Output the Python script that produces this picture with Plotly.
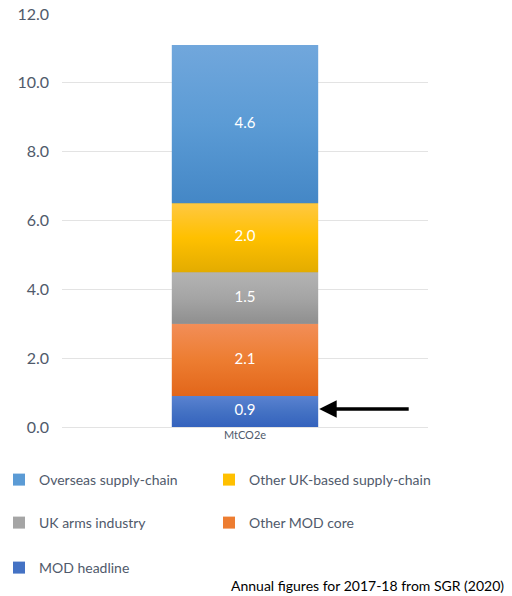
import numpy as np
import plotly.graph_objects as go

# Emissions breakdown (MtCO2e), stacked bottom to top
category_label = "MtCO2e"
series_names = [
    "MOD headline",
    "Other MOD core",
    "UK arms industry",
    "Other UK-based supply-chain",
    "Overseas supply-chain",
]
series_values = [0.9, 2.1, 1.5, 2.0, 4.6]
series_colors = ["#4472c4", "#ed7d31", "#a5a5a5", "#ffc000", "#5b9bd5"]
# (bottom, top) shades for the vertical gradient of each segment
gradient_bottom = ["#3462bd", "#e2661a", "#8f8f8f", "#e3ac00", "#4487c6"]
gradient_top = ["#5a82d0", "#f28e58", "#b3b3b3", "#ffc842", "#71a7dc"]
y_tick_values = [0, 2, 4, 6, 8, 10, 12]
y_tick_labels = ["0.0", "2.0", "4.0", "6.0", "8.0", "10.0", "12.0"]

# legend slot for each series: (legend id, column x px, row y px)
legend_slots = {
    "Overseas supply-chain": ("legend", -1, 480),
    "Other UK-based supply-chain": ("legend2", 209, 480),
    "UK arms industry": ("legend3", -1, 523),
    "Other MOD core": ("legend4", 209, 523),
    "MOD headline": ("legend5", -1, 568),
}

FONT = "Lato, Open Sans, sans-serif"
TEXT = "#505a6b"
W, H = 512, 596
PLOT_LEFT, PLOT_RIGHT = 62, 428   # pixel columns of the plotting area
PLOT_TOP, PLOT_BOTTOM = 14, 427   # pixel rows of the plotting area
BAR_W = 0.4
plot_w = PLOT_RIGHT - PLOT_LEFT
plot_h = PLOT_BOTTOM - PLOT_TOP


def px_x(px):
    return (px - PLOT_LEFT) / plot_w


def px_y(py):
    return (PLOT_BOTTOM - py) / plot_h


tops = np.cumsum(series_values)
bases = tops - np.array(series_values)

fig = go.Figure()

# stacked bars (solid base colours; also provide the legend swatches)
for name, val, col in zip(series_names, series_values, series_colors):
    fig.add_trace(go.Bar(
        x=[0], y=[val], name=name,
        marker=dict(color=col, line=dict(width=0)),
        legend=legend_slots[name][0],
        width=BAR_W, hoverinfo="name+y",
    ))

# vertical shading laid over each stacked segment
for b, t, cb, cm, ct in zip(bases, tops, gradient_bottom, series_colors, gradient_top):
    fig.add_trace(go.Scatter(
        x=[-BAR_W / 2, BAR_W / 2, BAR_W / 2, -BAR_W / 2, -BAR_W / 2],
        y=[b, b, t, t, b],
        mode="lines", line=dict(width=0), fill="toself",
        fillgradient=dict(type="vertical",
                          colorscale=[[0, cb], [0.5, cm], [1, ct]]),
        showlegend=False, hoverinfo="skip",
    ))

# value labels at the middle of each segment
fig.add_trace(go.Scatter(
    x=[0] * len(series_values), y=(bases + tops) / 2,
    mode="text", text=[f"{v:.1f}" for v in series_values],
    textfont=dict(color="white", size=15, family=FONT),
    showlegend=False, hoverinfo="skip",
))

legend_layouts = {}
for name, (lid, lx, ly) in legend_slots.items():
    legend_layouts[lid] = dict(
        xref="paper", yref="paper", x=px_x(lx), y=px_y(ly),
        xanchor="left", yanchor="middle",
        font=dict(size=14, color=TEXT, family=FONT),
        bgcolor="rgba(0,0,0,0)", itemwidth=30,
    )

fig.update_layout(
    width=W, height=H,
    margin=dict(l=PLOT_LEFT, r=W - PLOT_RIGHT, t=PLOT_TOP, b=H - PLOT_BOTTOM,
                autoexpand=False),
    paper_bgcolor="white", plot_bgcolor="white",
    barmode="stack",
    font=dict(family=FONT, color=TEXT),
    xaxis=dict(showgrid=False, showline=False, ticks="", automargin=False,
               zeroline=False, tickvals=[0], ticktext=[category_label],
               tickfont=dict(size=11, color=TEXT), range=[-0.5, 0.5]),
    yaxis=dict(range=[0, 12], tickvals=y_tick_values, ticktext=y_tick_labels,
               showgrid=True, gridcolor="#e3e3e3", gridwidth=1,
               zeroline=True, zerolinecolor="#e3e3e3", zerolinewidth=1,
               showline=False, ticks="", ticklabelstandoff=12, automargin=False,
               tickfont=dict(size=16, color=TEXT)),
    showlegend=True,
    **legend_layouts,
)

# arrow pointing at the MOD headline segment
fig.add_annotation(
    x=BAR_W / 2, y=series_values[0] / 2 + 0.07, xref="x", yref="y",
    ax=92, ay=0, axref="pixel", ayref="pixel",
    showarrow=True, arrowhead=2, arrowsize=1, arrowwidth=3.5,
    arrowcolor="black", standoff=1, text="",
)

fig.add_annotation(
    text="Annual figures for 2017-18 from SGR (2020)",
    xref="paper", yref="paper", x=px_x(506), y=px_y(585),
    xanchor="right", yanchor="middle", showarrow=False,
    font=dict(size=14, color="black", family=FONT),
)

fig.write_html("out.html")
